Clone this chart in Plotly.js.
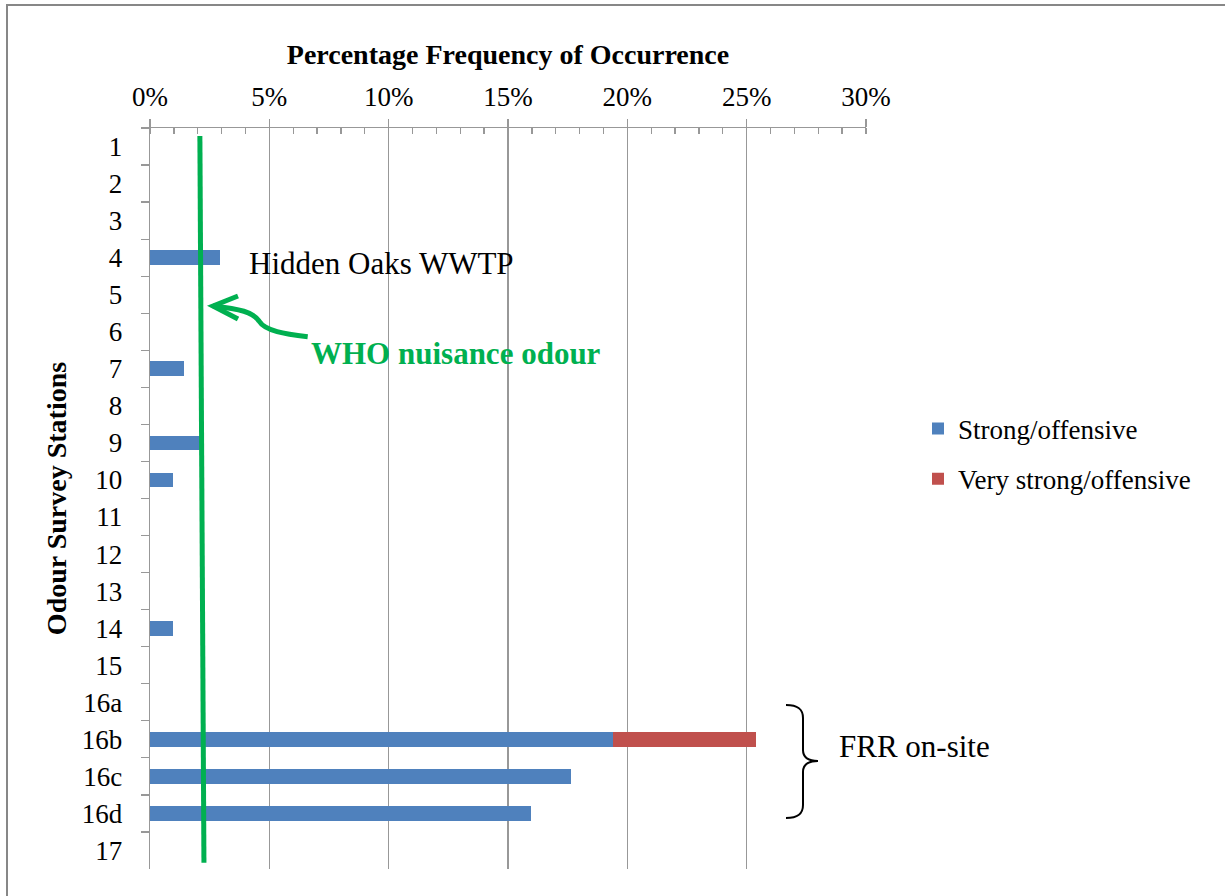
<!DOCTYPE html>
<html>
<head>
<meta charset="utf-8">
<script src="https://cdn.plot.ly/plotly-3.0.1.min.js"></script>
<style>html,body{margin:0;padding:0;background:#fff;}#chart{width:1225px;height:896px;}</style>
</head>
<body>
<div id="chart"></div>
<script>
// ---- Data ----
const stations = ['1','2','3','4','5','6','7','8','9','10','11','12','13','14','15','16a','16b','16c','16d','17'];
const strongOffensive = [0,0,0,0.0293,0,0,0.0142,0,0.0209,0.0096,0,0,0,0.0096,0,0,0.194,0.1764,0.1595,0];
const veryStrongOffensive = [0,0,0,0,0,0,0,0,0,0,0,0,0,0,0,0,0.0598,0,0,0];
const seriesNames = ['Strong/offensive', 'Very strong/offensive'];
const xTitle = 'Percentage Frequency of Occurrence';
const yTitle = 'Odour Survey Stations';
// WHO nuisance odour reference line (x in fraction, y in category index)
const whoLineX = [0.0209, 0.0226];
const whoLineY = [-0.284, 19.33];
const labels = {hidden: 'Hidden Oaks WWTP', who: 'WHO nuisance odour', frr: 'FRR on-site'};

// ---- Layout helpers (pixel -> paper) ----
const L = 150, R = 866, T = 128, B = 869;
function px(x){ return (x - L) / (R - L); }
function py(y){ return (B - y) / (B - T); }
function path(cmds){
  return cmds.map(c => {
    const letter = c[0]; const pts = [];
    for (let i = 1; i < c.length; i += 2) pts.push(px(c[i]).toFixed(5) + ',' + py(c[i+1]).toFixed(5));
    return letter + ' ' + pts.join(' ');
  }).join(' ');
}

const FONT = 'Liberation Serif';
const GRID = '#989898';
const GREEN = '#00B050';

const traces = [
  {type:'bar', orientation:'h', name: seriesNames[0], y: stations, x: strongOffensive,
   marker:{color:'#4F81BD', line:{width:0}}, width:0.4, legendgroup:'a', hoverinfo:'x+y'},
  {type:'bar', orientation:'h', name: seriesNames[1], y: stations, x: veryStrongOffensive,
   marker:{color:'#C0504D', line:{width:0}}, width:0.4, legendgroup:'b', hoverinfo:'x+y'}
];

const layout = {
  width:1225, height:896,
  margin:{l:L, r:1225-R, t:T, b:896-B, pad:0},
  paper_bgcolor:'#fff', plot_bgcolor:'#fff',
  font:{family:FONT, color:'#000', size:27},
  barmode:'stack',
  showlegend:true,
  legend:{x:px(918), xanchor:'left', y:py(454), yanchor:'middle', font:{size:27, family:FONT},
          traceorder:'grouped', tracegroupgap:12, bgcolor:'rgba(0,0,0,0)', itemwidth:30},
  xaxis:{
    side:'top', range:[0,0.3], tick0:0, dtick:0.05, tickformat:'.0%',
    showgrid:true, gridcolor:GRID, gridwidth:1.3,
    ticks:'outside', ticklen:8, tickwidth:1.3, tickcolor:GRID,
    showline:true, linecolor:GRID, linewidth:1.3, zeroline:false,
    minor:{dtick:0.01, ticks:'inside', ticklen:6, tickwidth:1.3, tickcolor:GRID, showgrid:false},
    tickfont:{size:27, family:FONT, color:'#000'},
    ticklabelstandoff:2,
    title:{text:'<b>'+xTitle+'</b>', font:{size:28, family:FONT, color:'#000'}, standoff:9},
    fixedrange:true
  },
  yaxis:{
    type:'category', categoryorder:'array', categoryarray:stations,
    range:[19.5,-0.5], tickson:'boundaries',
    ticks:'outside', ticklen:8, tickwidth:1.3, tickcolor:GRID,
    showline:true, linecolor:GRID, linewidth:1.3, showgrid:false, zeroline:false,
    tickfont:{size:27, family:FONT, color:'#000'},
    ticklabelstandoff:21,
    title:{text:'<b>'+yTitle+'</b>', font:{size:28, family:FONT, color:'#000'}, standoff:7},
    fixedrange:true
  },
  shapes:[
    {type:'rect', xref:'paper', yref:'paper', x0:px(7), y0:py(5), x1:px(1240), y1:py(910),
     line:{color:'#878787', width:2}, layer:'below'},
    {type:'line', xref:'x', yref:'y', x0:whoLineX[0], x1:whoLineX[1], y0:whoLineY[0], y1:whoLineY[1],
     line:{color:GREEN, width:5}},
    {type:'path', xref:'paper', yref:'paper',
     path:path([['M',307.7,336.7],['C',285,334,265,331,259,321],['C',253,312,240,309,213,306]]),
     line:{color:GREEN, width:5}},
    {type:'path', xref:'paper', yref:'paper',
     path:path([['M',238,296],['L',213,306],['L',238,319]]),
     line:{color:GREEN, width:5}},
    {type:'path', xref:'paper', yref:'paper',
     path:path([['M',786,705],['C',798,705,803,709,803,718],['L',803,750],['C',803,757,808,761,818,761],
                ['C',808,761,803,765,803,772],['L',803,805],['C',803,814,798,818,786,818]]),
     line:{color:'#000', width:2}}
  ],
  annotations:[
    {xref:'paper', yref:'paper', x:px(247), y:py(263), xanchor:'left', yanchor:'middle', showarrow:false,
     text:labels.hidden, font:{size:31, family:FONT, color:'#000'}},
    {xref:'paper', yref:'paper', x:px(309), y:py(353), xanchor:'left', yanchor:'middle', showarrow:false,
     text:'<b>'+labels.who+'</b>', font:{size:31, family:FONT, color:GREEN}},
    {xref:'paper', yref:'paper', x:px(837), y:py(746), xanchor:'left', yanchor:'middle', showarrow:false,
     text:labels.frr, font:{size:31, family:FONT, color:'#000'}}
  ]
};

Plotly.newPlot('chart', traces, layout, {displayModeBar:false, staticPlot:true});
</script>
</body>
</html>
